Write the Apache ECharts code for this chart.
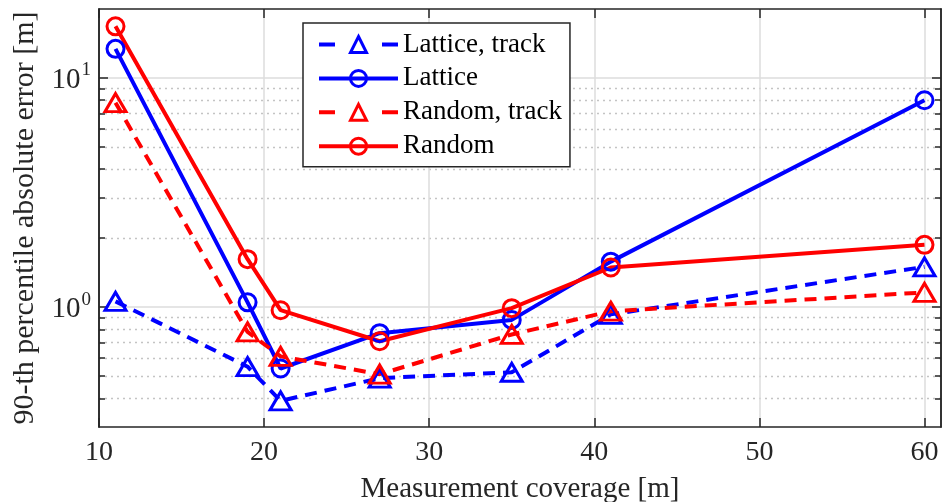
<!DOCTYPE html>
<html>
<head>
<meta charset="utf-8">
<script src="https://cdn.jsdelivr.net/npm/echarts@6/dist/echarts.min.js"></script>
<style>html,body{margin:0;padding:0;background:#fff;}#c{width:943px;height:502px;}</style>
</head>
<body>
<div id="c"></div>
<script>
var coverage = [11, 19, 21, 27, 35, 41, 60];
var latticeTrack = [1.06, 0.55, 0.39, 0.49, 0.52, 0.93, 1.50];
var lattice = [13.4, 1.05, 0.54, 0.77, 0.88, 1.58, 8.0];
var randomTrack = [7.8, 0.78, 0.61, 0.51, 0.76, 0.96, 1.16];
var random = [16.8, 1.62, 0.97, 0.71, 0.99, 1.49, 1.87];
var seriesNames = ['Lattice, track', 'Lattice', 'Random, track', 'Random'];
var xTicks = [10, 20, 30, 40, 50, 60];
var yMajor = [1, 10];
var yMinor = [0.4, 0.5, 0.6, 0.7, 0.8, 0.9, 2, 3, 4, 5, 6, 7, 8, 9];

var FONT = 'Liberation Serif';
var AX = '#262626';

function pairs(ys) { return coverage.map(function (x, i) { return [x, ys[i]]; }); }

function mkSeries(name, ys, color, dashed, symbol) {
  return {
    name: name, type: 'line', data: pairs(ys),
    symbol: symbol,
    symbolSize: symbol === 'triangle' ? [21, 18] : 17,
    showAllSymbol: true,
    lineStyle: { color: color, width: 4, type: dashed ? [12, 8] : 'solid' },
    itemStyle: { color: 'rgba(255,255,255,0)', borderColor: color, borderWidth: 3 },
    emphasis: { disabled: true },
    animation: false
  };
}

function yAxisDef(pos, isMajor, showLabel, split) {
  return {
    type: 'log', logBase: 10, min: 0.3, max: 20, position: pos,
    axisLine: { show: true, onZero: false, lineStyle: { color: AX, width: 1.5 } },
    axisTick: { show: true, inside: true, length: isMajor ? 9 : 6, customValues: isMajor ? yMajor : yMinor,
      lineStyle: { color: AX, width: 1.5 } },
    axisLabel: showLabel ? {
      show: true, customValues: yMajor, margin: 8, fontSize: 28, fontFamily: FONT,
      formatter: function (v) { return '{b|10}{s|' + Math.round(Math.log10(v)) + '}'; },
      rich: {
        b: { fontFamily: FONT, fontSize: 29, color: '#262626', lineHeight: 34, verticalAlign: 'bottom' },
        s: { fontFamily: FONT, fontSize: 19, color: '#262626', lineHeight: 34, verticalAlign: 'top', padding: [0, 0, 0, 1] }
      }
    } : { show: false },
    splitLine: split ? (isMajor ? { show: true, lineStyle: { color: '#dcdcdc', width: 1.5 } }
      : { show: true, lineStyle: { color: '#c4c4c4', width: 1.3, type: [2, 4] } }) : { show: false },
    minorTick: { show: false }, minorSplitLine: { show: false }
  };
}

function xAxisDef(pos, showLabel, split) {
  return {
    type: 'value', min: 10, max: 61, position: pos,
    name: showLabel ? 'Measurement coverage [m]' : '',
    nameLocation: 'middle', nameGap: 48,
    nameTextStyle: { fontFamily: FONT, fontSize: 29, color: '#262626' },
    axisLine: { show: true, onZero: false, lineStyle: { color: AX, width: 1.5 } },
    axisTick: { show: true, inside: true, length: 9, customValues: xTicks, lineStyle: { color: AX, width: 1.5 } },
    axisLabel: showLabel ? { show: true, customValues: xTicks, fontFamily: FONT, fontSize: 28, color: '#262626', margin: 12 } : { show: false },
    splitLine: split ? { show: true, lineStyle: { color: '#dcdcdc', width: 1.5 } } : { show: false }
  };
}

function legendItem(name, dashed) {
  return { name: name, lineStyle: { width: 4, type: dashed ? [16, 47] : 'solid' }, itemStyle: { borderWidth: 3 } };
}

var option = {
  backgroundColor: '#fff',
  animation: false,
  grid: { left: 99, right: 2, top: 9, bottom: 75, containLabel: false, outerBoundsMode: 'none' },
  xAxis: [xAxisDef('bottom', true, true), xAxisDef('top', false, false)],
  yAxis: [
    Object.assign(yAxisDef('left', true, true, true), {
      name: '90-th percentile absolute error [m]', nameLocation: 'middle', nameGap: 59,
      nameTextStyle: { fontFamily: FONT, fontSize: 30, color: '#262626' }
    }),
    yAxisDef('left', false, false, true),
    yAxisDef('right', true, false, false),
    yAxisDef('right', false, false, false)
  ],
  legend: {
    orient: 'vertical', left: 303, top: 23,
    data: [legendItem(seriesNames[0], true), legendItem(seriesNames[1], false),
           legendItem(seriesNames[2], true), legendItem(seriesNames[3], false)],
    itemWidth: 79, itemHeight: 20, itemGap: 6.9,
    padding: [8, 8, 7, 14],
    backgroundColor: '#fff', borderColor: AX, borderWidth: 1.5, borderRadius: 0,
    lineStyle: { width: 4 },
    itemStyle: { borderWidth: 3 },
    textStyle: { fontFamily: FONT, fontSize: 27, lineHeight: 20, color: '#000', padding: [0, 0, 0, 0] },
    selectedMode: false
  },
  series: [
    mkSeries(seriesNames[0], latticeTrack, '#0000ff', true, 'triangle'),
    mkSeries(seriesNames[1], lattice, '#0000ff', false, 'circle'),
    mkSeries(seriesNames[2], randomTrack, '#ff0000', true, 'triangle'),
    mkSeries(seriesNames[3], random, '#ff0000', false, 'circle')
  ]
};
var chart = echarts.init(document.getElementById('c'), null, { renderer: 'canvas' });
chart.setOption(option);
</script>
</body>
</html>
